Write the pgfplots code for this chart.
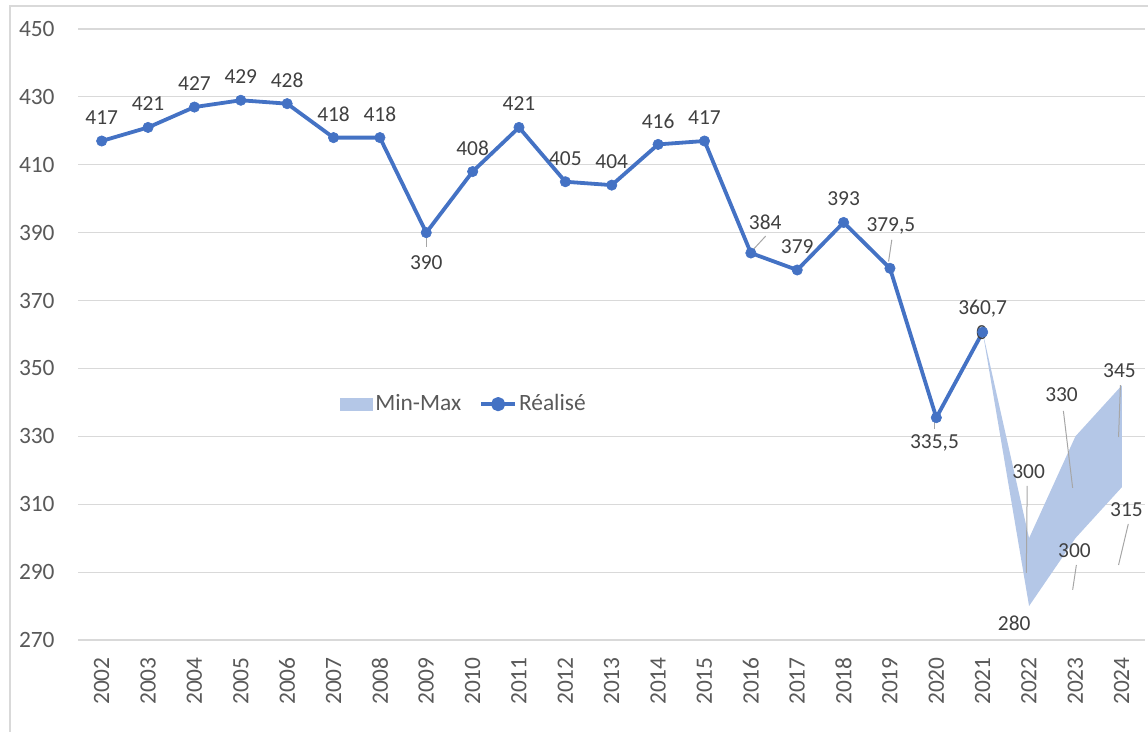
\documentclass[border=0pt]{standalone}
\usepackage{fontspec}
\setmainfont{Carlito}
\usepackage{pgfplots}
\pgfplotsset{compat=1.18}
\definecolor{cblue}{HTML}{4472C4}
\definecolor{cband}{HTML}{B4C7E7}
\definecolor{cgrid}{HTML}{D9D9D9}
\definecolor{ctick}{HTML}{595959}
\definecolor{clab}{HTML}{404040}
\definecolor{clead}{HTML}{A6A6A6}
\newcommand{\dlfont}{\fontsize{10.7}{12}\selectfont}
\newcommand{\dla}[3]{\node[font=\dlfont, text=clab, inner sep=0pt, yshift=11.75pt] at (axis cs:#1,#2) {#3};}
\newcommand{\dlp}[3]{\node[font=\dlfont, text=clab, inner sep=0pt] at (axis cs:#1,#2) {#3};}
\newcommand{\lead}[4]{\draw[clead, line width=0.5pt] (axis cs:#1,#2) -- (axis cs:#3,#4);}
\begin{document}
\begin{tikzpicture}
\useasboundingbox (-39.25pt,-46pt) rectangle (534.75pt,320pt);
\draw[cgrid, line width=0.6pt] (-34.25pt,-120pt) rectangle (600pt,317pt);
\begin{axis}[
  at={(0pt,0pt)}, anchor=south west,
  scale only axis, width=533.25pt, height=305.5pt,
  xmin=2001.5, xmax=2024.5, ymin=270, ymax=450,
  xtick={2002,...,2024}, ytick={270,290,...,450},
  /pgf/number format/.cd, 1000 sep={}, assume math mode=true, /pgfplots/.cd,
  axis line style={draw=none},
  major tick length=0pt,
  ymajorgrids, grid style={cgrid, line width=0.6pt},
  ticklabel style={font=\fontsize{11.7}{13}\selectfont, text=ctick, inner sep=0pt},
  xticklabel style={rotate=90, anchor=east, xshift=-8.5pt},
  yticklabel style={anchor=east, xshift=-11.75pt},
  clip=false,
  legend style={draw=none, fill=none, at={(0.3615,0.386)}, anchor=center,
    font=\fontsize{11.7}{13}\selectfont, text=ctick,
    /tikz/every even column/.append style={column sep=8pt},
    nodes={inner sep=1pt}},
  legend columns=2,
]
\addplot[fill=cband, draw=none,
  legend image code/.code={\fill[cband] (0pt,-3.25pt) rectangle (16.5pt,3.25pt);}]
  coordinates {(2021,360.7) (2022,300) (2023,330) (2024,345) (2024,315) (2023,300) (2022,280)};
\addlegendentry{Min-Max}
\addplot[cblue, line width=1.9pt, line join=round, mark=*, mark size=2.6pt, mark options={solid, fill=cblue, draw=cblue, line width=0.3pt},
  legend image code/.code={\draw[cblue, line width=1.9pt] (0pt,0pt) -- (17pt,0pt); \fill[cblue] (8.5pt,0pt) circle (2.6pt);}]
  coordinates {(2002,417) (2003,421) (2004,427) (2005,429) (2006,428) (2007,418) (2008,418) (2009,390) (2010,408) (2011,421) (2012,405) (2013,404) (2014,416) (2015,417) (2016,384) (2017,379) (2018,393) (2019,379.5) (2020,335.5) (2021,360.7)};
\addlegendentry{Réalisé}
\dla{2002}{417}{417}
\dla{2003}{421}{421}
\dla{2004}{427}{427}
\dla{2005}{429}{429}
\dla{2006}{428}{428}
\dla{2007}{418}{418}
\dla{2008}{418}{418}
\dla{2010}{408}{408}
\dla{2011}{421}{421}
\dla{2012}{405}{405}
\dla{2013}{404}{404}
\dla{2014}{416}{416}
\dla{2015}{417}{417}
\dla{2017}{379}{379}
\dla{2018}{393}{393}
\dla{2021}{360.7}{360,7}
\lead{2009}{389}{2009}{385.8}
\dlp{2009}{381.1}{390}
\lead{2016.05}{385}{2016.32}{389.0}
\dlp{2016.31}{393.1}{384}
\lead{2018.97}{381.5}{2019.04}{387.9}
\dlp{2019.02}{392.1}{379,5}
\lead{2019.97}{334.3}{2019.97}{332.3}
\dlp{2019.96}{328.1}{335,5}
\dlp{2020.98}{360.6}{0}
\lead{2021.96}{315.4}{2021.94}{289.8}
\dlp{2021.99}{319.5}{300}
\dlp{2021.68}{275.0}{280}
\lead{2022.74}{337.5}{2022.94}{314.8}
\dlp{2022.70}{342.2}{330}
\lead{2023.02}{292.1}{2022.94}{284.8}
\dlp{2022.98}{296.2}{300}
\lead{2023.97}{345.1}{2023.93}{329.8}
\dlp{2023.95}{349.3}{345}
\lead{2024.14}{304.2}{2023.93}{292.1}
\dlp{2024.10}{308.3}{315}
\end{axis}
\end{tikzpicture}
\end{document}
